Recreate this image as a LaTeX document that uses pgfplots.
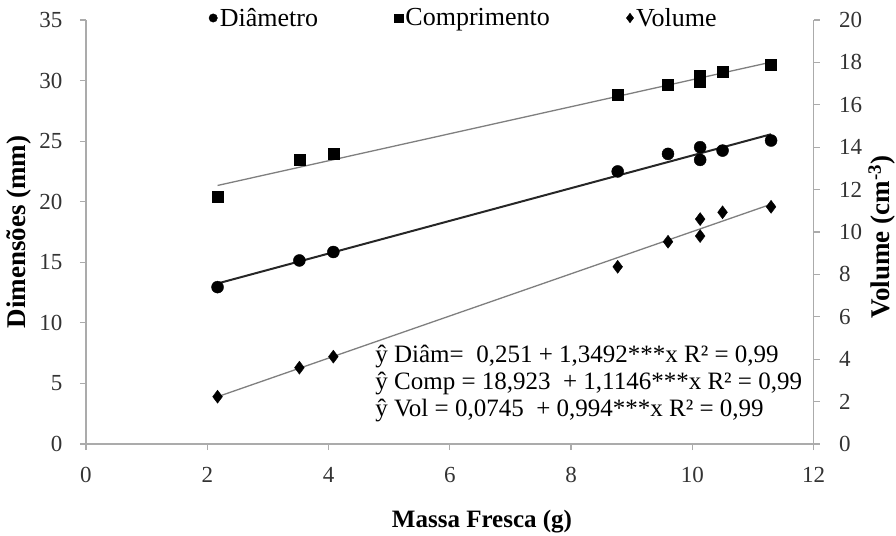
\documentclass[border=0pt]{standalone}
\usepackage{fontspec}
\setmainfont{Liberation Serif}
\usepackage{pgfplots}
\pgfplotsset{compat=1.18}
\definecolor{axgray}{HTML}{ABABAB}
\definecolor{trendgray}{HTML}{7F7F7F}
\definecolor{txt}{HTML}{333333}
\begin{document}
\begin{tikzpicture}
\useasboundingbox (-86pt,-91pt) rectangle (810pt,444pt);
\begin{axis}[
  at={(0pt,0pt)}, anchor=south west,
  scale only axis, width=727.5pt, height=424pt,
  xmin=0, xmax=12, ymin=0, ymax=35,
  xtick={0,2,...,12}, ytick={0,5,...,35},
  axis x line*=bottom, axis y line*=left,
  axis line style={axgray, line width=1.2pt, -},
  tick style={axgray, line width=1.2pt},
  tick align=outside, major tick length=6pt,
  tick label style={font=\fontsize{23}{27}\selectfont, text=txt},
  /pgf/number format/assume math mode=true,
  yticklabel style={xshift=-14pt},
  xticklabel style={yshift=-14pt},
  clip=false,
  xlabel={Massa Fresca (g)},
  xlabel style={at={(axis description cs:0.5443,-0.184)}, anchor=center, font=\fontsize{25}{30}\selectfont\bfseries, text=black},
  ylabel={Dimensões (mm)},
  ylabel style={at={(axis description cs:-0.0928,0.5)}, anchor=center, font=\fontsize{27}{32}\selectfont\bfseries, text=black},
  legend columns=3,
  legend image code/.code={\draw[#1] plot coordinates {(0pt,0pt)};},
  legend style={at={(axis description cs:0.5196,1.0047)}, anchor=center, draw=none, fill=none,
    font=\fontsize{26}{31}\selectfont, nodes={inner sep=2.5pt},
    /tikz/every even column/.append style={column sep=74pt}},
]
\addlegendimage{only marks, mark=*, mark size=4.2pt, black}
\addlegendentry{Diâmetro}
\addlegendimage{only marks, mark=square*, mark size=4.2pt, black}
\addlegendentry{Comprimento}
\addlegendimage{only marks, mark=diamond*, mark size=4.8pt, black}
\addlegendentry{Volume}
% trendlines
\addplot[black!85, line width=2pt, forget plot] coordinates {(2.17,13.25) (11.30,25.57)};
\addplot[trendgray, line width=1.3pt, forget plot] coordinates {(2.17,21.34) (11.30,31.52)};
% Diametro
\addplot[only marks, mark=*, mark size=6pt, black, forget plot] coordinates {
(2.17,12.95) (3.52,15.15) (4.08,15.85) (8.77,22.50) (9.60,23.95)
(10.13,24.50) (10.13,23.45) (10.50,24.22) (11.30,25.05)};
% Comprimento
\addplot[only marks, mark=square*, mark size=5.5pt, black, forget plot] coordinates {
(2.17,20.45) (3.52,23.45) (4.08,23.95) (8.77,28.80) (9.60,29.70)
(10.13,30.40) (10.13,29.90) (10.50,30.75) (11.30,31.30)};
\node[anchor=base west, font=\fontsize{25}{30}\selectfont, text=black, inner sep=0pt] at (axis cs:4.77,6.69) {ŷ Diâm=\ \ 0,251 + 1,3492***x R² = 0,99};
\node[anchor=base west, font=\fontsize{25}{30}\selectfont, text=black, inner sep=0pt] at (axis cs:4.77,4.49) {ŷ Comp = 18,923\ \ + 1,1146***x R² = 0,99};
\node[anchor=base west, font=\fontsize{25}{30}\selectfont, text=black, inner sep=0pt] at (axis cs:4.77,2.31) {ŷ Vol = 0,0745\ \ + 0,994***x R² = 0,99};
\end{axis}
\begin{axis}[
  at={(0pt,0pt)}, anchor=south west,
  scale only axis, width=727.5pt, height=424pt,
  xmin=0, xmax=12, ymin=0, ymax=20,
  ytick={0,2,...,20},
  axis x line=none, axis y line*=right,
  axis line style={axgray, line width=1.2pt, -},
  tick style={axgray, line width=1.2pt},
  tick align=outside, major tick length=6pt,
  tick label style={font=\fontsize{23}{27}\selectfont, text=txt},
  /pgf/number format/assume math mode=true,
  yticklabel style={xshift=16pt},
  clip=false,
  ylabel={Volume (cm\textsuperscript{-3})},
  ylabel style={at={(axis description cs:1.0942,0.488)}, anchor=center, rotate=0, font=\fontsize{27}{32}\selectfont\bfseries, text=black},
]
\addplot[trendgray, line width=1.3pt] coordinates {(2.17,2.23) (11.30,11.31)};
\addplot[only marks, mark=diamond*, mark size=6.5pt, black] coordinates {
(2.17,2.23) (3.52,3.60) (4.08,4.12) (8.77,8.36) (9.60,9.54)
(10.13,9.81) (10.13,10.61) (10.50,10.93) (11.30,11.19)};
\end{axis}
\end{tikzpicture}
\end{document}
